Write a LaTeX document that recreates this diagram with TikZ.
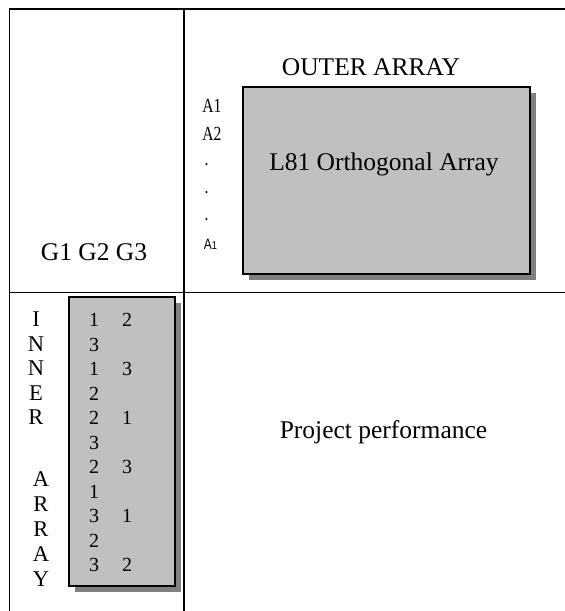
\documentclass[tikz,border=0pt]{standalone}
\usepackage{fontspec}
\setmainfont{Liberation Serif}
\newfontfamily\labelsans{Liberation Sans}
\definecolor{boxgray}{HTML}{C0C0C0}
\definecolor{shadowgray}{HTML}{808080}
\begin{document}
\begin{tikzpicture}[x=1pt,y=-1pt,
  rule/.style={line width=1.6pt,black},
  panel/.style={draw=black,line width=1.8pt,fill=boxgray,inner sep=0pt,outer sep=0pt,anchor=north west},
  panelshadow/.style={fill=shadowgray,draw=none,inner sep=0pt,outer sep=0pt,anchor=north west},
  big/.style={font=\fontsize{25.5}{30}\selectfont,anchor=base,inner sep=0pt},
  letter/.style={font=\fontsize{22.5}{26}\selectfont,anchor=base,inner sep=0pt},
  digit/.style={font=\fontsize{20}{24}\selectfont,anchor=base,inner sep=0pt},
  level/.style={font=\fontsize{20}{24}\selectfont,anchor=base,inner sep=0pt,xscale=0.78},
]
\useasboundingbox (0,0) rectangle (565,611);

% table rules
\coordinate (tl) at (9.5,9);
\coordinate (tr) at (565,9);
\coordinate (bl) at (9.5,611);
\coordinate (mt) at (183.7,9);
\coordinate (mb) at (183.7,611);
\coordinate (ml) at (9.5,292.3);
\coordinate (mr) at (565,292.3);
\draw[rule] (tr) -- (tl) -- (bl);
\draw[rule] (mt) -- (mb);
\draw[rule] (ml) -- (mr);

% outer array panel with drop shadow
\node[panelshadow,minimum width=286.7pt,minimum height=187.3pt] (outershadow) at (249.3,92.7) {};
\node[panel,minimum width=286.7pt,minimum height=187.3pt] (outer) at (243.3,86.7) {};

% inner array panel with drop shadow
\node[panelshadow,minimum width=106.6pt,minimum height=289pt] (innershadow) at (74.7,302.7) {};
\node[panel,minimum width=106.6pt,minimum height=289pt] (inner) at (68.7,296.7) {};

% headings
\node[big] (outertitle) at (371,75) {OUTER ARRAY};
\node[big] (l81) at (384,170) {L81 Orthogonal Array};
\node[big] (groups) at (94,260) {G1 G2 G3};
\node[big] (perf) at (383.5,438) {Project performance};

% outer array levels
\node[level] (a1) at (212,112.7) {A1};
\node[level] (a2) at (212,140) {A2};
\node[level] (d1) at (206.5,165.7) {.};
\node[level] (d2) at (206.5,193) {.};
\node[level] (d3) at (206.5,220.7) {.};
\node[anchor=base,inner sep=0pt,xscale=0.8] (an) at (210.5,249.5)
  {\labelsans\fontsize{15}{18}\selectfont A\fontsize{11.5}{14}\selectfont 1};

% vertical INNER ARRAY label
\foreach \ch [count=\i from 0] in {I,N,N,E,R}
  \node[letter] (in\i) at (36,326.7+24.5*\i) {\ch};
\foreach \ch [count=\i from 0] in {A,R,R,A,Y}
  \node[letter] (ar\i) at (41,486+25.2*\i) {\ch};

% inner array entries
\foreach \a/\b [count=\i from 0] in {1/2,3/,1/3,2/,2/1,3/,2/3,1/,3/1,2/,3/2}{
  \node[digit] (c\i) at (94,326.7+24.5*\i) {\a};
  \node[digit] (d\i) at (127,326.7+24.5*\i) {\b};
}
\end{tikzpicture}
\end{document}
